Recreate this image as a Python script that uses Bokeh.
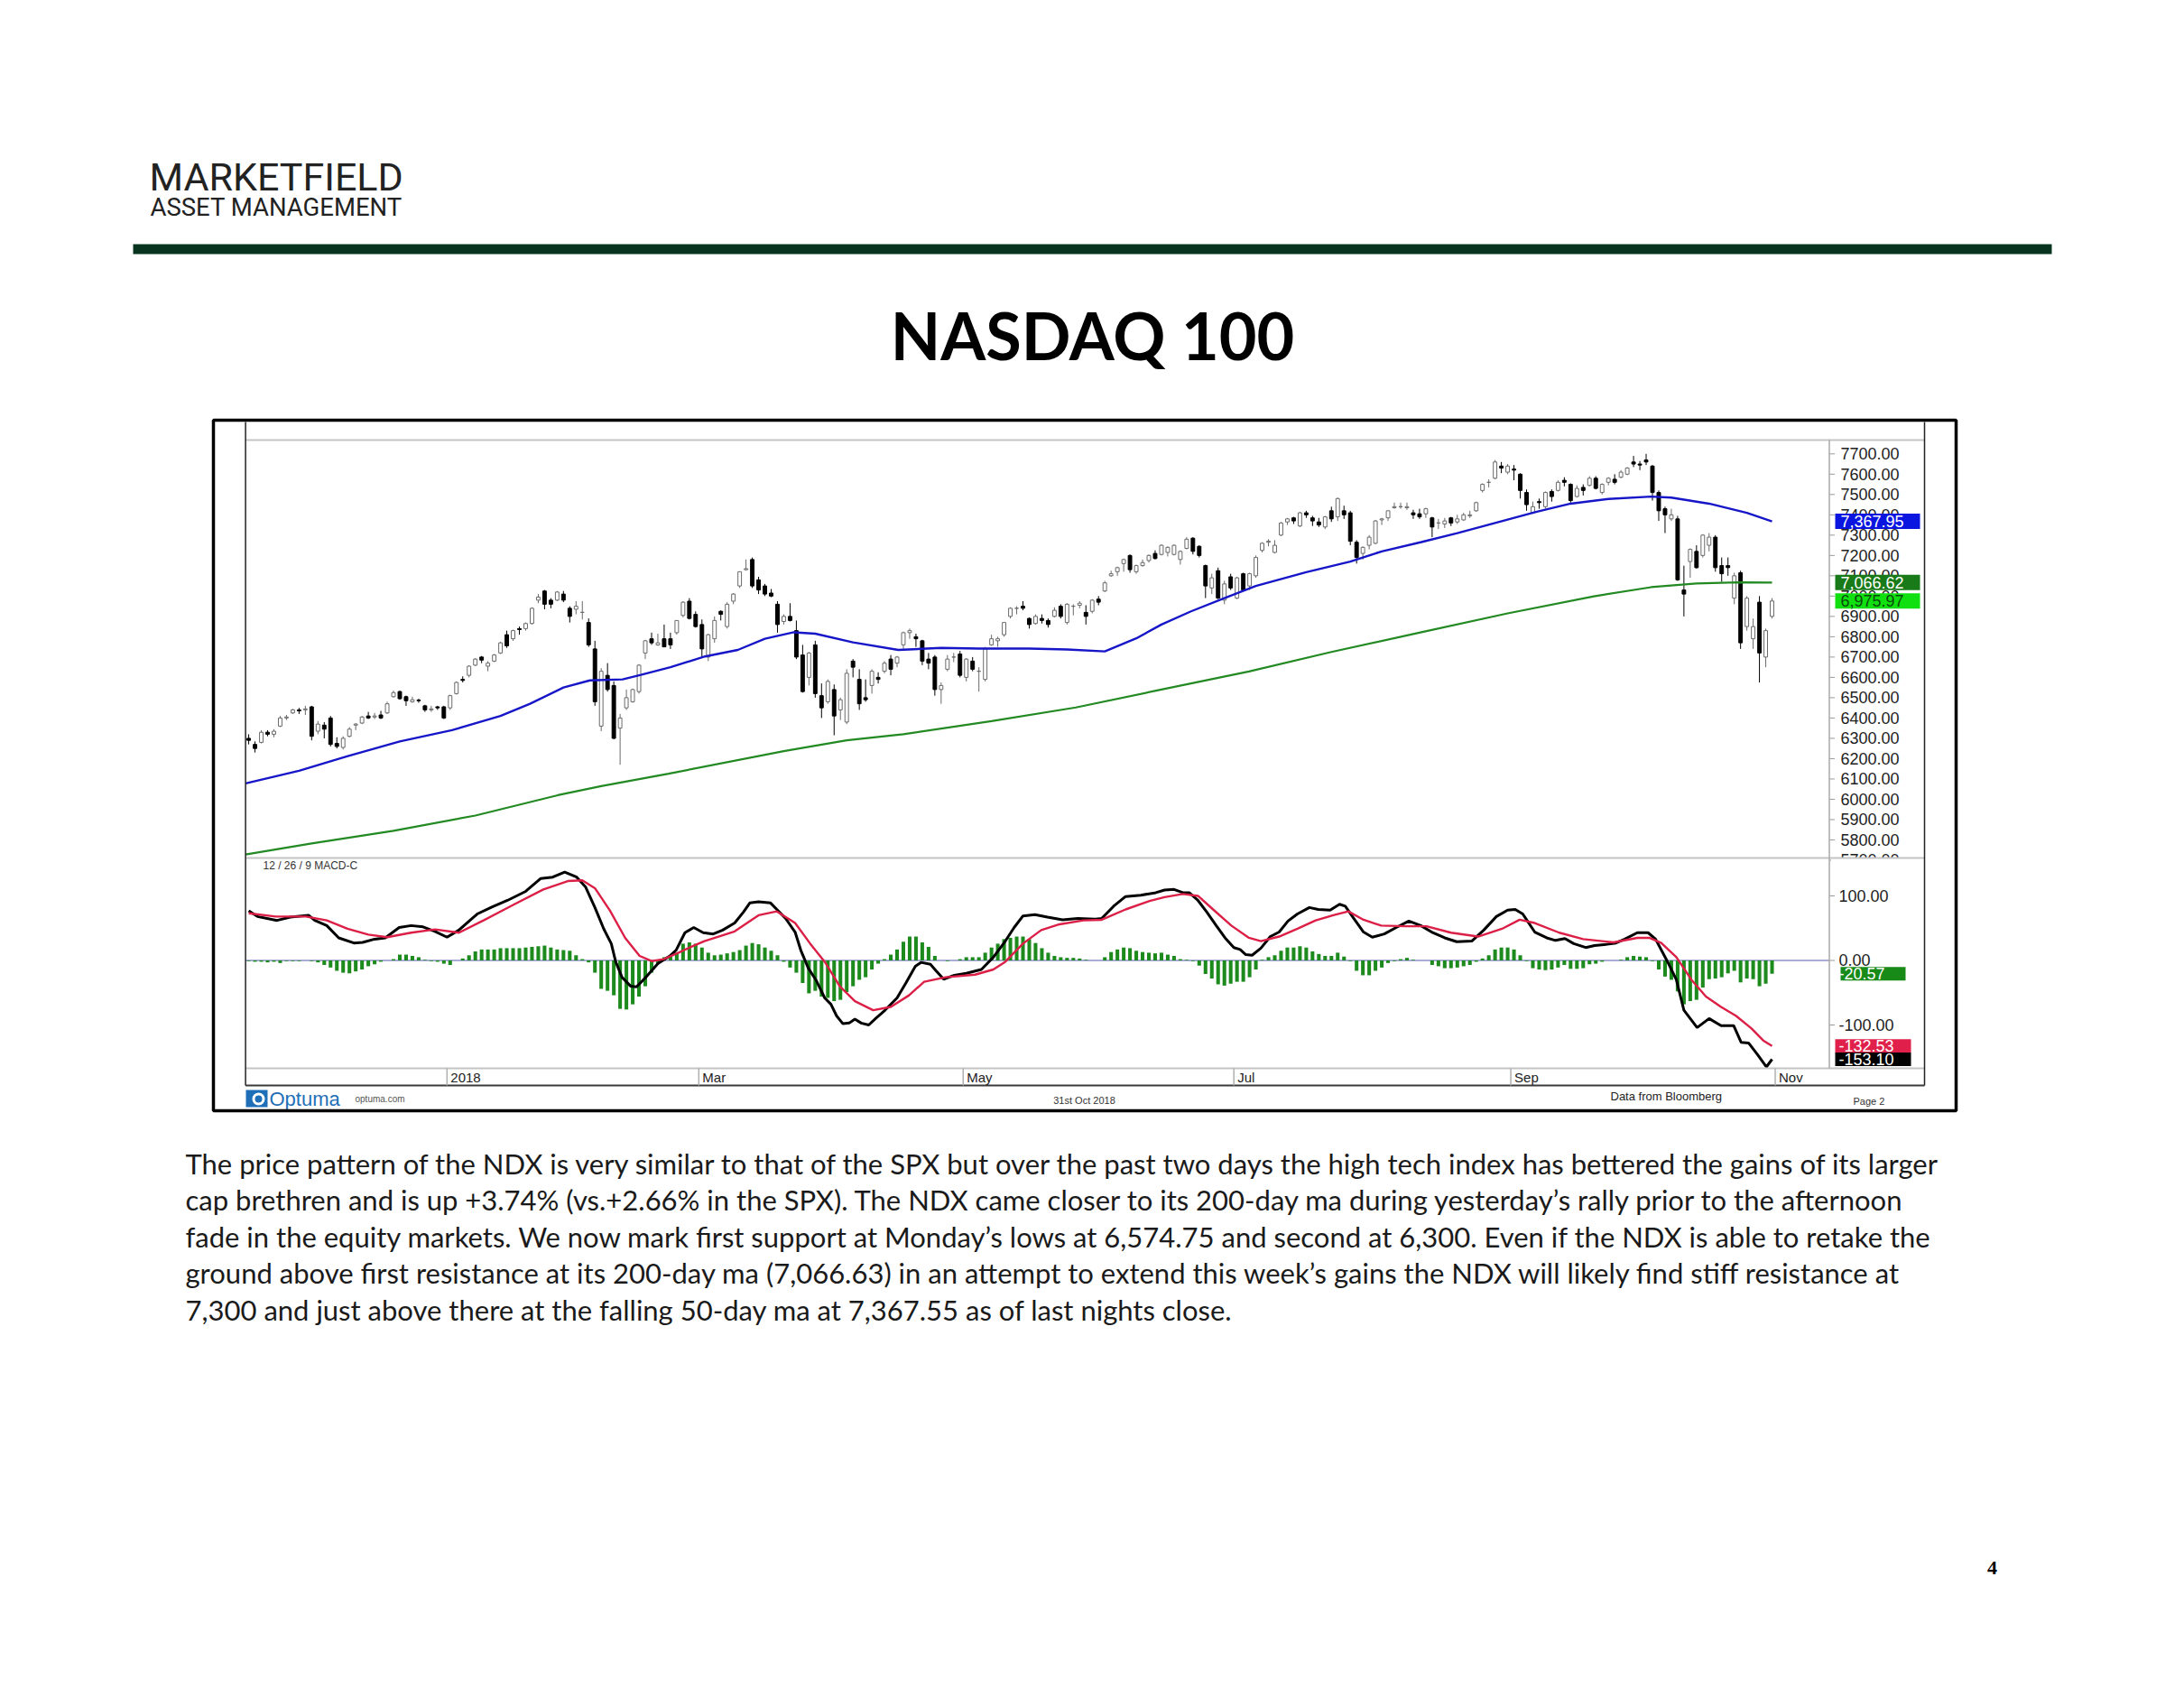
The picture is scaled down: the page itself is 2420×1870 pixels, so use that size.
from bokeh.plotting import figure
from bokeh.models import Range1d
from bokeh.core.properties import value
from bokeh.embed import file_html
from bokeh.resources import INLINE

# ---------------- data ----------------
opens = [
    6300, 6270, 6280, 6330, 6320, 6360, 6400, 6425, 6440, 6440,
    6455, 6335, 6365, 6400, 6275, 6255, 6310, 6365, 6375, 6410,
    6405, 6415, 6425, 6505, 6530, 6505, 6480, 6488, 6460, 6440,
    6455, 6455, 6450, 6520, 6590, 6610, 6660, 6700, 6655, 6680,
    6720, 6810, 6790, 6840, 6840, 6865, 6980, 7025, 6980, 6980,
    7010, 6940, 6935, 6920, 6870, 6740, 6360, 6610, 6560, 6350,
    6450, 6480, 6530, 6720, 6790, 6760, 6790, 6790, 6820, 6905,
    6975, 6910, 6860, 6700, 6790, 6925, 6850, 6975, 7050, 7130,
    7180, 7080, 7050, 7015, 6960, 6875, 6900, 6830, 6710, 6600,
    6760, 6510, 6480, 6540, 6440, 6380, 6680, 6590, 6500, 6560,
    6600, 6630, 6690, 6670, 6760, 6820, 6800, 6780, 6690, 6700,
    6540, 6640, 6700, 6715, 6600, 6680, 6630, 6590, 6760, 6780,
    6810, 6900, 6940, 6950, 6890, 6865, 6890, 6880, 6900, 6950,
    6870, 6950, 6955, 6920, 6925, 6985, 7025, 7100, 7120, 7160,
    7200, 7120, 7150, 7175, 7210, 7205, 7215, 7205, 7180, 7235,
    7285, 7245, 7150, 7040, 7125, 6980, 7095, 6990, 7110, 7050,
    7100, 7225, 7265, 7215, 7300, 7365, 7385, 7345, 7410, 7385,
    7365, 7340, 7420, 7390, 7420, 7410, 7265, 7210, 7250, 7260,
    7375, 7385, 7435, 7440, 7435, 7410, 7405, 7405, 7385, 7360,
    7355, 7385, 7365, 7375, 7395, 7420, 7520, 7560, 7580, 7640,
    7610, 7625, 7600, 7510, 7410, 7465, 7440, 7515, 7520, 7570,
    7550, 7490, 7535, 7545, 7580, 7510, 7560, 7575, 7585, 7600,
    7660, 7650, 7670, 7640, 7510, 7430, 7380, 7380, 7030, 7170,
    7220, 7200, 7250, 7290, 7150, 7150, 6990, 7115, 6850, 6790,
    6970, 6700, 6900]
highs = [
    6320, 6285, 6340, 6340, 6345, 6410, 6415, 6445, 6450, 6460,
    6460, 6385, 6380, 6410, 6305, 6310, 6355, 6375, 6410, 6430,
    6425, 6435, 6480, 6535, 6535, 6510, 6505, 6495, 6465, 6460,
    6460, 6460, 6515, 6580, 6605, 6660, 6695, 6705, 6680, 6715,
    6775, 6830, 6835, 6850, 6870, 6945, 7010, 7030, 6990, 7025,
    7025, 6950, 6975, 6975, 6890, 6780, 6645, 6670, 6580, 6420,
    6540, 6545, 6665, 6785, 6820, 6815, 6860, 6820, 6880, 6975,
    6990, 6925, 6885, 6815, 6900, 6930, 6970, 7015, 7120, 7180,
    7190, 7095, 7060, 7035, 6975, 6910, 6965, 6880, 6760, 6725,
    6780, 6570, 6590, 6565, 6500, 6640, 6690, 6640, 6590, 6640,
    6625, 6680, 6710, 6705, 6825, 6840, 6815, 6785, 6720, 6710,
    6575, 6710, 6720, 6730, 6695, 6700, 6650, 6750, 6810, 6800,
    6870, 6945, 6950, 6975, 6895, 6910, 6910, 6890, 6945, 6960,
    6965, 6960, 6975, 6955, 6985, 7000, 7075, 7125, 7145, 7185,
    7205, 7155, 7180, 7205, 7225, 7255, 7245, 7255, 7225, 7290,
    7290, 7250, 7155, 7110, 7140, 7075, 7110, 7095, 7115, 7115,
    7200, 7265, 7280, 7275, 7365, 7385, 7390, 7415, 7420, 7395,
    7385, 7395, 7440, 7485, 7445, 7420, 7275, 7245, 7300, 7375,
    7385, 7420, 7460, 7460, 7460, 7425, 7430, 7435, 7390, 7380,
    7385, 7390, 7400, 7410, 7420, 7465, 7555, 7575, 7670, 7660,
    7650, 7645, 7605, 7525, 7465, 7480, 7515, 7525, 7570, 7585,
    7555, 7545, 7550, 7590, 7590, 7555, 7585, 7600, 7620, 7635,
    7690, 7665, 7700, 7645, 7520, 7440, 7430, 7395, 7150, 7235,
    7250, 7305, 7310, 7300, 7190, 7190, 7115, 7125, 7000, 6890,
    7000, 6840, 6990]
lows = [
    6270, 6230, 6275, 6310, 6305, 6355, 6390, 6420, 6420, 6415,
    6290, 6320, 6300, 6260, 6250, 6245, 6305, 6340, 6370, 6395,
    6395, 6395, 6420, 6500, 6490, 6460, 6475, 6475, 6430, 6430,
    6440, 6395, 6440, 6515, 6575, 6600, 6655, 6670, 6630, 6675,
    6715, 6745, 6780, 6810, 6830, 6860, 6965, 6935, 6940, 6975,
    6970, 6870, 6910, 6885, 6750, 6460, 6335, 6530, 6295, 6170,
    6440, 6475, 6520, 6690, 6760, 6755, 6750, 6740, 6810, 6895,
    6885, 6845, 6700, 6680, 6770, 6880, 6840, 6960, 7040, 7125,
    7040, 7010, 7000, 6995, 6820, 6860, 6875, 6690, 6525, 6560,
    6500, 6400, 6470, 6315, 6390, 6370, 6600, 6440, 6480, 6520,
    6570, 6620, 6610, 6650, 6740, 6790, 6750, 6660, 6640, 6510,
    6470, 6630, 6675, 6600, 6580, 6630, 6530, 6580, 6755, 6750,
    6800, 6890, 6910, 6930, 6840, 6860, 6865, 6845, 6895, 6890,
    6860, 6905, 6940, 6860, 6915, 6955, 7020, 7095, 7100, 7120,
    7115, 7110, 7145, 7165, 7180, 7200, 7195, 7200, 7155, 7230,
    7205, 7190, 6990, 7010, 6985, 6960, 7030, 6985, 7025, 7030,
    7090, 7215, 7245, 7210, 7295, 7350, 7355, 7340, 7385, 7345,
    7340, 7330, 7365, 7370, 7380, 7250, 7160, 7180, 7230, 7255,
    7350, 7370, 7430, 7430, 7425, 7380, 7380, 7385, 7290, 7330,
    7335, 7345, 7355, 7370, 7385, 7415, 7510, 7535, 7575, 7605,
    7600, 7570, 7480, 7420, 7405, 7430, 7430, 7465, 7515, 7540,
    7460, 7485, 7495, 7540, 7525, 7500, 7545, 7550, 7580, 7595,
    7635, 7620, 7645, 7470, 7370, 7310, 7370, 7075, 6900, 7090,
    7135, 7190, 7220, 7120, 7070, 7100, 6960, 6740, 6830, 6740,
    6575, 6650, 6890]
closes = [
    6290, 6250, 6330, 6320, 6335, 6400, 6405, 6440, 6435, 6445,
    6310, 6370, 6345, 6270, 6260, 6300, 6345, 6370, 6405, 6400,
    6410, 6400, 6470, 6525, 6495, 6485, 6490, 6485, 6440, 6445,
    6450, 6400, 6510, 6575, 6585, 6655, 6690, 6685, 6670, 6710,
    6770, 6755, 6830, 6835, 6865, 6940, 6995, 6960, 6960, 7020,
    6980, 6900, 6950, 6920, 6760, 6480, 6630, 6540, 6300, 6400,
    6500, 6540, 6660, 6780, 6770, 6770, 6750, 6760, 6880, 6970,
    6890, 6850, 6740, 6810, 6880, 6910, 6960, 7010, 7120, 7135,
    7050, 7030, 7010, 7000, 6860, 6900, 6880, 6700, 6530, 6720,
    6520, 6450, 6580, 6410, 6490, 6620, 6650, 6470, 6490, 6630,
    6590, 6670, 6640, 6700, 6820, 6830, 6790, 6680, 6670, 6540,
    6560, 6690, 6700, 6610, 6690, 6640, 6630, 6740, 6790, 6790,
    6870, 6940, 6940, 6940, 6860, 6900, 6880, 6860, 6930, 6900,
    6960, 6950, 6965, 6900, 6980, 6970, 7065, 7110, 7140, 7180,
    7130, 7150, 7165, 7200, 7185, 7250, 7240, 7250, 7220, 7280,
    7220, 7200, 7050, 7090, 6990, 7060, 7040, 7090, 7030, 7110,
    7190, 7260, 7270, 7250, 7360, 7380, 7370, 7410, 7400, 7370,
    7350, 7390, 7380, 7480, 7400, 7270, 7190, 7240, 7290, 7370,
    7380, 7420, 7440, 7440, 7440, 7400, 7390, 7430, 7340, 7360,
    7370, 7360, 7380, 7400, 7400, 7460, 7550, 7560, 7660, 7630,
    7640, 7620, 7520, 7450, 7440, 7460, 7510, 7490, 7560, 7560,
    7470, 7530, 7520, 7580, 7530, 7550, 7580, 7560, 7610, 7630,
    7650, 7645, 7660, 7510, 7420, 7400, 7400, 7080, 7010, 7230,
    7140, 7300, 7290, 7140, 7110, 7140, 7100, 6770, 6990, 6850,
    6720, 6830, 6975.97]

ma50_idx = [-0.5, 8, 15.5, 24, 32.3, 40, 44.7, 50, 54.2, 59.4, 62.3, 67, 72.5, 77.7, 82,
            86.6, 90, 96, 103.2, 110, 116, 124, 130, 136, 141, 145, 149.7, 155, 160, 168,
            175, 180, 186.3, 192, 198, 204.5, 210, 216, 222.8, 226, 232, 238, 242]
ma50_val = [6078, 6140, 6210, 6285, 6340, 6410, 6470, 6550, 6585, 6590, 6612, 6650, 6703, 6735, 6790,
            6822, 6815, 6772, 6735, 6745, 6742, 6742, 6737, 6728, 6792, 6860, 6925, 6990, 7050, 7118,
            7170, 7220, 7266, 7310, 7360, 7414, 7455, 7478, 7490, 7485, 7455, 7410, 7367.95]

ma200_idx = [-0.5, 10, 23, 36, 49.1, 56, 66.7, 85, 95, 104, 118, 131.4, 145, 158.9, 172,
             186.3, 200, 213.7, 222.8, 230, 236.6, 242]
ma200_val = [5728, 5783, 5845, 5920, 6020, 6065, 6126, 6237, 6290, 6320, 6385, 6452, 6540, 6629, 6725,
             6822, 6915, 6999, 7044, 7062, 7068, 7066.62]

macd_idx = [0, 1.4, 4.5, 6.6, 9.5, 10.5, 12.4, 14.3, 16.7, 18.1, 20, 21.7, 23.9, 25.8, 27.7, 29.6,
            31.5, 33.4, 36.3, 38.7, 41.1, 44, 46.4, 48.3, 50.2, 52.1, 53.5, 55, 56.4, 57.6, 58.3,
            59.3, 60.7, 61.6, 63.1, 65, 66.9, 67.9, 69.3, 70.7, 72.2, 73.8, 75.3, 77.2, 78.6, 79.6,
            81, 82.9, 83.9, 85.3, 86.8, 87.7, 88.9, 90.1, 91.5, 92.5, 93.4, 94.4, 95.4, 96.3, 97.3,
            98.5, 99.7, 101.1, 103, 104.4, 105.9, 106.8, 108.3, 109.2, 110.4, 112.1, 114, 116.4,
            118.3, 120.2, 121.6, 123, 124.9, 126.9, 129.3, 131.7, 134.5, 135.5, 137.4, 139.3, 141.7,
            144.1, 145.5, 147, 148.4, 149.4, 150.8, 152.2, 153.7, 155.1, 156.5, 157.5, 158.4, 159.4,
            160.8, 162.3, 163.7, 165.1, 166.6, 168.5, 169.9, 171.8, 173.3, 174.2, 175.7, 177.1,
            178.5, 180.4, 182.3, 184.3, 186.2, 188.1, 190, 191.9, 194.3, 196.2, 198.2, 200, 201.2,
            202.4, 204.3, 206.2, 207.6, 209.1, 210.5, 212.4, 213.8, 215.8, 217.2, 218.6, 220.6,
            222.3, 223.5, 225.4, 226.8, 228, 230.1, 232, 233.9, 235.9, 237.1, 238.3, 239.7, 241.1,
            242]
macd_val = [77, 68, 62, 67, 70, 62, 54, 35, 27, 28, 33, 35, 51, 54, 52, 45,
            36, 47, 72, 83, 93, 107, 127, 129, 137, 129, 114, 82, 49, 26, -2,
            -26, -40, -41, -26, -5, 7, 16, 43, 51, 43, 41, 47, 58, 75, 89,
            91, 89, 79, 65, 44, 16, -12, -30, -58, -68, -86, -98, -97, -91, -97,
            -100, -89, -77, -58, -35, -9, -3, -6, -16, -29, -23, -20, -14,
            5, 30, 51, 69, 71, 67, 63, 65, 64, 65, 84, 99, 101,
            105, 109, 110, 105, 105, 93, 75, 54, 35, 20, 17, 9, 8,
            19, 37, 44, 61, 72, 82, 79, 78, 87, 84, 63, 44,
            36, 41, 51, 61, 54, 43, 35, 29, 30, 47, 68, 78, 79,
            72, 44, 35, 31, 34, 26, 20, 23, 25, 27, 33, 43,
            43, 33, -2, -30, -77, -104, -90, -101, -101, -127, -128, -146, -165,
            -153.10]

signal_idx = [0, 4.3, 9.1, 12.4, 15.7, 19, 22, 25.8, 29.6, 33.4, 37.3, 42, 46.8, 50.7, 53, 55,
              57.4, 59.8, 62.1, 64, 65.9, 68.3, 70.7, 72.4, 77.2, 81, 83.9, 86.8, 89.2, 91.5,
              93.9, 96.3, 99.2, 102, 104.9, 107.3, 110.7, 115.4, 118.3, 120.2, 123, 125.9, 128.8,
              132.6, 135.5, 139.3, 143.1, 145.5, 148.4, 150.8, 153.2, 156.1, 158.9, 160.8, 163.7,
              166.6, 169.5, 172.3, 174.7, 177.1, 179.9, 183.8, 187.1, 191, 195.3, 199.1, 201.9,
              204.3, 208.2, 212, 216.8, 220.6, 222.5, 224.4, 226.8, 229.2, 231.5, 233.9, 236.3,
              238.7, 240.6, 242]
signal_val = [73, 68, 68, 62, 49, 40, 36, 43, 48, 43, 62, 86, 110, 123, 124, 112,
              77, 35, 7, -1, 2, 12, 23, 30, 45, 70, 76, 58, 26, -2,
              -40, -63, -77, -72, -54, -33, -26, -22, -14, -2, 26, 47, 56,
              62, 63, 79, 92, 98, 103, 100, 79, 54, 35, 30, 37,
              49, 62, 70, 76, 63, 54, 53, 53, 43, 37, 49, 63,
              58, 43, 33, 28, 35, 35, 27, 5, -30, -56, -72, -86,
              -105, -124, -132.53]

hist_val = [
    -1, -2, -2, -3, -2, -4, -1, -1, -1, 0,
    -1, -3, -7, -11, -16, -19, -20, -17, -14, -9,
    -6, -2, 0, 2, 9, 9, 7, 5, 1, -1,
    -2, -5, -7, 0, 3, 8, 14, 17, 17, 17,
    19, 19, 19, 19, 20, 21, 22, 23, 20, 17,
    16, 15, 8, 2, -3, -19, -44, -47, -54, -75,
    -76, -68, -56, -40, -19, -5, 5, 7, 12, 26,
    28, 26, 20, 12, 8, 9, 11, 13, 16, 23,
    27, 25, 20, 15, 8, -2, -11, -19, -35, -51,
    -47, -56, -58, -63, -61, -49, -40, -30, -26, -14,
    -5, 2, 9, 17, 29, 37, 37, 28, 21, 7,
    0, -1, 0, 2, 5, 5, 5, 12, 20, 26,
    33, 35, 37, 37, 33, 27, 19, 12, 7, 5,
    4, 4, 3, 1, 0, 0, 5, 13, 17, 20,
    19, 15, 13, 12, 11, 12, 9, 7, 2, 1,
    -1, -8, -21, -28, -37, -39, -36, -33, -33, -26,
    -14, 1, 5, 8, 15, 20, 20, 22, 20, 14,
    10, 7, 7, 12, 6, -1, -16, -23, -23, -16,
    -11, -4, -1, 2, 4, 1, 0, 0, -7, -9,
    -12, -12, -11, -9, -7, -2, 3, 8, 17, 20,
    20, 17, 8, -1, -12, -14, -15, -14, -11, -7,
    -13, -13, -12, -6, -5, -2, 0, 0, 1, 5,
    7, 6, 5, -1, -14, -25, -30, -48, -68, -63,
    -61, -42, -29, -28, -26, -20, -16, -34, -28, -29,
    -40, -36, -20.57]

month_labels = ["2018", "Mar", "May", "Jul", "Sep", "Nov"]
month_first_bar = [32, 72, 114, 157, 201, 243]

price_ticks = [5700, 5800, 5900, 6000, 6100, 6200, 6300, 6400, 6500, 6600, 6700,
               6800, 6900, 7000, 7100, 7200, 7300, 7400, 7500, 7600, 7700]
macd_ticks = [100, 0, -100]

last_ma50 = 7367.95
last_ma200 = 7066.62
last_close = 6975.97
last_macd = -153.10
last_signal = -132.53
last_hist = -20.57

body_lines = [
    "The price pattern of the NDX is very similar to that of the SPX but over the past two days the high tech index has bettered the gains of its larger",
    "cap brethren and is up +3.74% (vs.+2.66% in the SPX). The NDX came closer to its 200-day ma during yesterday\u2019s rally prior to the afternoon",
    "fade in the equity markets. We now mark first support at Monday\u2019s lows at 6,574.75 and second at 6,300. Even if the NDX is able to retake the",
    "ground above first resistance at its 200-day ma (7,066.63) in an attempt to extend this week\u2019s gains the NDX will likely find stiff resistance at",
    "7,300 and just above there at the falling 50-day ma at 7,367.55 as of last nights close.",
]

assert len(opens) == len(highs) == len(lows) == len(closes) == len(hist_val) == 243

# ---------------- page ----------------
W, H = 2404, 1854


def X(x):
    return x


def Y(y):
    return y


page = figure(width=W, height=H, x_range=Range1d(0, W), y_range=Range1d(H, 0),
              x_axis_type=None, y_axis_type=None, toolbar_location=None,
              output_backend="svg", min_border=0, outline_line_color=None,
              background_fill_color="white", border_fill_color="white")
page.grid.visible = False


def sub(xs, xt, ys, yt):
    return page.subplot(x_source=Range1d(*xs), x_target=Range1d(*xt),
                        y_source=Range1d(*ys), y_target=Range1d(*yt))


def ptext(x, y, s, size, color="#000000", font="Liberation Sans", align="left",
          baseline="middle", style="normal"):
    page.text(x=[X(x)], y=[Y(y)], text=[s], text_font=value(font),
              text_font_size=f"{size}px", text_color=color, text_align=align,
              text_baseline=baseline, text_font_style=style)


def hline(x0, x1, y, color, width):
    page.segment(x0=[X(x0)], x1=[X(x1)], y0=[Y(y)], y1=[Y(y)], line_color=color, line_width=width)


def vline(x, y0, y1, color, width):
    page.segment(x0=[X(x)], x1=[X(x)], y0=[Y(y0)], y1=[Y(y1)], line_color=color, line_width=width)


# header
ptext(165, 195, "MARKETFIELD", 43, "#222222", "Roboto")
ptext(166, 229, "ASSET MANAGEMENT", 27.5, "#222222", "Roboto")
page.quad(left=[X(147)], right=[X(2273)], top=[Y(270)], bottom=[Y(281)],
          fill_color="#08331f", line_color=None)
ptext(1210, 370, "NASDAQ 100", 72, "#000000", "Lato", align="center", style="bold")

# ---------------- chart geometry (image pixels) ----------------
IN_L, IN_R, AX_X = 271.6, 2132, 2026.5
TOP, SEP, BAND_T, BAND_B = 487, 950, 1183, 1202
IDX_SRC = (-0.5, 251.1)
IDX_TGT = (X(IN_L), X(AX_X))
PRICE_SRC = (5711, 7768)
PRICE_TGT = (Y(SEP), Y(TOP))
MACD_SRC = (-167.1, 158.7)
MACD_TGT = (Y(BAND_T), Y(SEP))
PX = (0, W)
PY = (0, H)

price_sp = sub(IDX_SRC, IDX_TGT, PRICE_SRC, PRICE_TGT)
price_ax = sub(PX, PX, PRICE_SRC, PRICE_TGT)
macd_sp = sub(IDX_SRC, IDX_TGT, MACD_SRC, MACD_TGT)
macd_ax = sub(PX, PX, MACD_SRC, MACD_TGT)
band_sp = sub(IDX_SRC, IDX_TGT, PY, PY)

# ---------------- candles ----------------
idx = list(range(len(closes)))
up = [c >= o for o, c in zip(opens, closes)]
body_top = [max(o, c) for o, c in zip(opens, closes)]
body_bot = [min(o, c) for o, c in zip(opens, closes)]
edge = ["#6a6a6a" if u else "#000000" for u in up]
fill = ["#ffffff" if u else "#000000" for u in up]

price_sp.segment(x0=idx, x1=idx, y0=lows, y1=highs, line_color=edge, line_width=1)
price_sp.vbar(x=idx, width=0.56, top=body_top, bottom=body_bot,
              fill_color=fill, line_color=edge, line_width=1)

price_sp.line(x=ma200_idx, y=ma200_val, line_color="#238a23", line_width=2.2)
price_sp.line(x=ma50_idx, y=ma50_val, line_color="#1616c8", line_width=2.4)

# ---------------- MACD ----------------
macd_sp.segment(x0=[IDX_SRC[0]], x1=[IDX_SRC[1]], y0=[0], y1=[0], line_color="#8a92c8", line_width=1.5)
macd_sp.vbar(x=idx, width=0.58, top=hist_val, bottom=0, fill_color="#1d8a1d", line_color=None)
macd_sp.line(x=macd_idx, y=macd_val, line_color="#000000", line_width=3)
macd_sp.line(x=signal_idx, y=signal_val, line_color="#dc1f46", line_width=2.4)

ptext(291, 958, "12 / 26 / 9 MACD-C", 12, "#333333")

# ---------------- price axis ----------------
price_ax.segment(x0=[X(AX_X)] * len(price_ticks), x1=[X(AX_X + 6)] * len(price_ticks),
                 y0=price_ticks, y1=price_ticks, line_color="#9a9a9a", line_width=1)
price_ax.text(x=[X(2039)] * len(price_ticks), y=price_ticks,
              text=[f"{v:.2f}" for v in price_ticks], text_font=value("Liberation Sans"),
              text_font_size="18px", text_color="#222222", text_align="left",
              text_baseline="middle")
# mask lower part of the partly hidden 5700 label
page.quad(left=[X(AX_X + 2)], right=[X(IN_R - 1)], top=[Y(SEP)], bottom=[Y(SEP + 14)],
          fill_color="white", line_color=None)

box_vals = [last_ma50, last_ma200, last_close]
box_fill = ["#0a16e0", "#187a18", "#10e010"]
box_text = ["#ffffff", "#ffffff", "#0c4a0c"]
price_ax.rect(x=[X(2080)] * 3, y=box_vals, width=94, height=17, width_units="screen",
              height_units="screen", fill_color=box_fill, line_color=None)
price_ax.text(x=[X(2039)] * 3, y=box_vals, text=[f"{v:,.2f}" for v in box_vals],
              text_font=value("Liberation Sans"), text_font_size="18px", text_color=box_text,
              text_align="left", text_baseline="middle")

# ---------------- MACD axis ----------------
macd_ax.segment(x0=[X(AX_X)] * 3, x1=[X(AX_X + 6)] * 3, y0=macd_ticks, y1=macd_ticks,
                line_color="#9a9a9a", line_width=1)
macd_ax.text(x=[X(2037)] * 3, y=macd_ticks, text=[f"{v:.2f}" for v in macd_ticks],
             text_font=value("Liberation Sans"), text_font_size="18px", text_color="#222222",
             text_align="left", text_baseline="middle")
mb_vals = [last_hist, last_signal, last_macd]
mb_fill = ["#188a18", "#e0204a", "#000000"]
macd_ax.rect(x=[X(2075)] * 3, y=mb_vals, width=[72, 84, 84], height=15, width_units="screen",
             height_units="screen", fill_color=mb_fill, line_color=None)
macd_ax.text(x=[X(2037)] * 3, y=mb_vals, text=[f"{v:.2f}" for v in mb_vals],
             text_font=value("Liberation Sans"), text_font_size="18px", text_color="#ffffff",
             text_align="left", text_baseline="middle")

# ---------------- frame lines ----------------
hline(IN_L, IN_R, TOP, "#c4c4c4", 2)
hline(IN_L, IN_R, SEP, "#c4c4c4", 2)
hline(IN_L, IN_R, BAND_T, "#c4c4c4", 2)
hline(IN_L, IN_R, BAND_B, "#3a3a3a", 2)
vline(AX_X, TOP, BAND_T, "#a8a8a8", 1.5)
vline(IN_L, 467, BAND_B, "#222222", 1.5)
vline(IN_R, 467, BAND_B, "#222222", 1.5)

# month separators and labels
sep_x = [m - 0.5 for m in month_first_bar]
band_sp.segment(x0=sep_x, x1=sep_x, y0=[Y(BAND_T)] * len(sep_x), y1=[Y(BAND_B)] * len(sep_x),
                line_color="#b0b0b0", line_width=1.5)
band_sp.text(x=sep_x, y=[Y(1193)] * len(sep_x), text=month_labels, x_offset=4,
             text_font=value("Liberation Sans"), text_font_size="15px", text_color="#222222",
             text_align="left", text_baseline="middle")

# footer of chart
page.quad(left=[X(272)], right=[X(296)], top=[Y(1207)], bottom=[Y(1226)],
          fill_color="#1f6fb8", line_color=None)
page.annulus(x=[X(286)], y=[Y(1217)], inner_radius=4, outer_radius=7,
             fill_color="white", line_color=None)
ptext(298, 1217, "Optuma", 22, "#1f6fb8")
ptext(393, 1217, "optuma.com", 10, "#555555")
ptext(1201, 1218, "31st Oct 2018", 11, "#333333", align="center")
ptext(1784, 1214, "Data from Bloomberg", 13, "#222222")
ptext(2053, 1219, "Page 2", 11, "#333333")

# outer frame
page.quad(left=[X(236)], right=[X(2167)], top=[Y(465)], bottom=[Y(1230)],
          fill_alpha=0, line_color="#000000", line_width=3.5)

# ---------------- body text ----------------
centers = [1288, 1328.5, 1369, 1409.5, 1450]
for ln, yc in zip(body_lines, centers):
    ptext(205, yc, ln, 31, "#1a1a1a", "Lato")

ptext(2207, 1736, "4", 22, "#000000", "Liberation Serif", align="center", style="bold")

open("out.html", "w").write(file_html(page, INLINE))
